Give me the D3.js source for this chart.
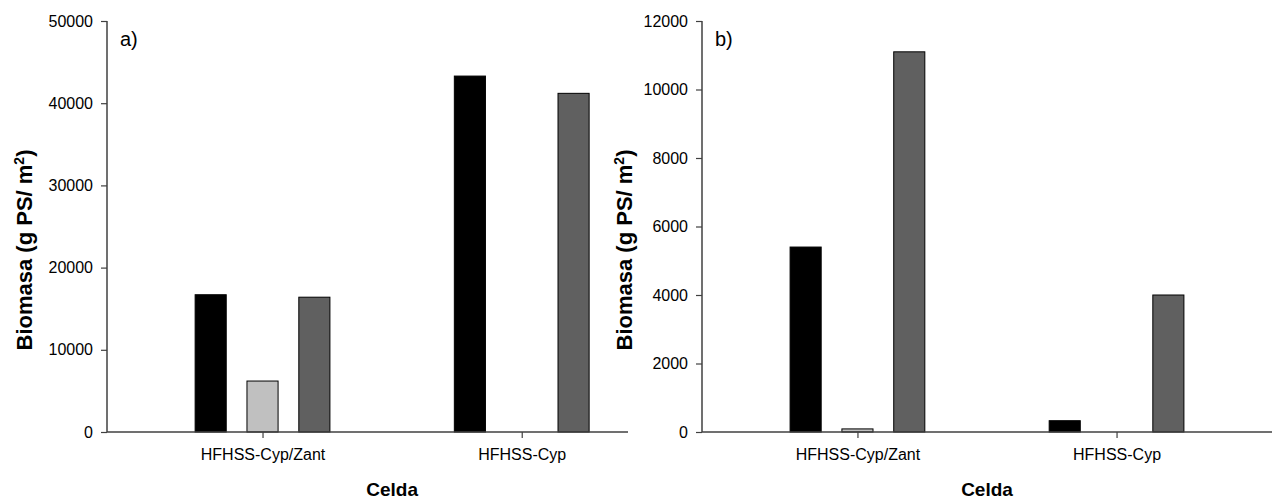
<!DOCTYPE html>
<html>
<head>
<meta charset="utf-8">
<script src="https://cdn.jsdelivr.net/npm/d3@7"></script>
<style>
  html, body { margin: 0; padding: 0; background: #fff; }
  svg { display: block; }
  text { font-family: "Liberation Sans", Arial, sans-serif; fill: #000; }
</style>
</head>
<body>
<svg id="chart" width="1278" height="499"></svg>
<script>
// Categories (cells) shared by both panels
const categories = ["HFHSS-Cyp/Zant", "HFHSS-Cyp"];
// Three series per cell, drawn black / light grey / dark grey
const seriesKeys = ["serie1", "serie2", "serie3"];
const seriesFill = ["#000000", "#c0c0c0", "#606060"];

// Panel a) biomass (g PS/m2)
const biomasaA_serie1 = [16700, 43300];
const biomasaA_serie2 = [6200, 0];
const biomasaA_serie3 = [16400, 41200];
const yTicksA = [0, 10000, 20000, 30000, 40000, 50000];

// Panel b) biomass (g PS/m2)
const biomasaB_serie1 = [5400, 330];
const biomasaB_serie2 = [90, 0];
const biomasaB_serie3 = [11100, 4000];
const yTicksB = [0, 2000, 4000, 6000, 8000, 10000, 12000];

const svg = d3.select("#chart");
const FONT = '"Liberation Sans", Arial, sans-serif';
const AXIS_COLOR = "#404040";

const panels = [
  {
    tag: "a)",
    values: [biomasaA_serie1, biomasaA_serie2, biomasaA_serie3],
    yTicks: yTicksA,
    left: 107, right: 628, top: 21, bottom: 432,
    xDomain: [0.4, 2.41],
    titleX: 32
  },
  {
    tag: "b)",
    values: [biomasaB_serie1, biomasaB_serie2, biomasaB_serie3],
    yTicks: yTicksB,
    left: 702, right: 1272, top: 21, bottom: 432,
    xDomain: [0.4, 2.6],
    titleX: 632
  }
];

// bar offsets within a group, in category units
const inner = d3.scaleBand()
  .domain(seriesKeys)
  .range([-0.3, 0.3])
  .paddingInner(0.4)
  .paddingOuter(0.2);

panels.forEach(p => {
  const g = svg.append("g");

  const x = d3.scaleLinear().domain(p.xDomain).range([p.left, p.right]);
  const y = d3.scaleLinear()
    .domain([0, d3.max(p.yTicks)])
    .range([p.bottom, p.top]);

  const catPos = d => categories.indexOf(d) + 1;

  // bars
  seriesKeys.forEach((key, si) => {
    const vals = p.values[si];
    g.append("g")
      .selectAll("rect")
      .data(categories.map((c, i) => ({ c, v: vals[i] })).filter(d => d.v > 0))
      .join("rect")
      .attr("x", d => x(catPos(d.c) + inner(key)))
      .attr("width", x(p.xDomain[0] + inner.bandwidth()) - x(p.xDomain[0]))
      .attr("y", d => y(d.v))
      .attr("height", d => y(0) - y(d.v))
      .attr("fill", seriesFill[si])
      .attr("stroke", "#000")
      .attr("stroke-width", 1);
  });

  // y axis
  const yAxis = d3.axisLeft(y)
    .tickValues(p.yTicks)
    .tickFormat(d3.format("d"))
    .tickSize(6)
    .tickPadding(8);
  const gy = g.append("g")
    .attr("transform", `translate(${p.left},0)`)
    .call(yAxis);
  gy.select(".domain").attr("d", `M-0,${p.bottom}V${p.top}`);

  // x axis
  const xAxis = d3.axisBottom(x)
    .tickValues(categories.map(catPos))
    .tickFormat(v => categories[v - 1])
    .tickSize(6)
    .tickPadding(11);
  const gx = g.append("g")
    .attr("transform", `translate(0,${p.bottom})`)
    .call(xAxis);
  gx.select(".domain").attr("d", `M${p.left},0H${p.right}`);

  [gx, gy].forEach(ax => {
    ax.selectAll(".domain").attr("stroke", AXIS_COLOR).attr("stroke-width", 1.5);
    ax.selectAll(".tick line").attr("stroke", AXIS_COLOR).attr("stroke-width", 1.2);
    ax.selectAll(".tick text")
      .attr("font-family", FONT)
      .attr("font-size", 16)
      .attr("fill", "#000");
  });

  // x axis title
  g.append("text")
    .attr("x", x(1.5))
    .attr("y", 496)
    .attr("text-anchor", "middle")
    .attr("font-size", 19)
    .attr("font-weight", "bold")
    .text("Celda");

  // y axis title
  const yt = g.append("text")
    .attr("transform", `translate(${p.titleX},250) rotate(-90)`)
    .attr("text-anchor", "middle")
    .attr("font-size", 22)
    .attr("font-weight", "bold");
  yt.append("tspan").text("Biomasa (g PS/ m");
  yt.append("tspan").attr("font-size", 14).attr("dy", -8).text("2");
  yt.append("tspan").attr("dy", 8).text(")");

  // panel tag
  g.append("text")
    .attr("x", p.left + 13)
    .attr("y", 46)
    .attr("font-size", 20)
    .text(p.tag);
});
</script>
</body>
</html>
